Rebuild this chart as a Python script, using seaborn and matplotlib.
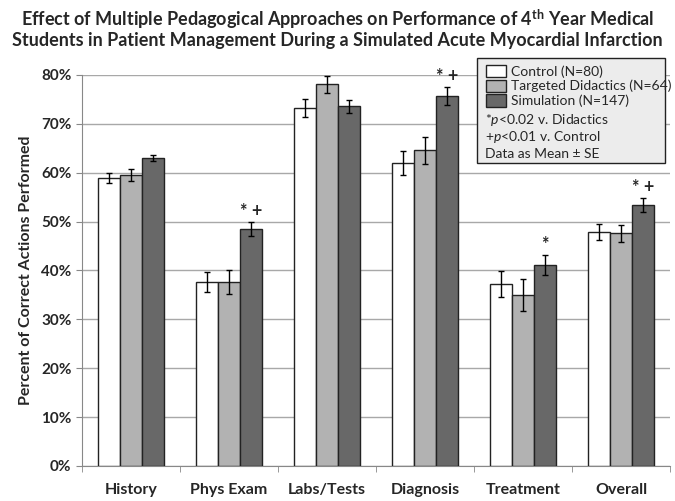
import matplotlib
matplotlib.use("Agg")
import matplotlib.pyplot as plt
from matplotlib.patches import Patch, Rectangle
from matplotlib.ticker import PercentFormatter
import seaborn as sns
import pandas as pd

categories = ["History", "Phys Exam", "Labs/Tests", "Diagnosis", "Treatment", "Overall"]
groups = ["Control (N=80)", "Targeted Didactics (N=64)", "Simulation (N=147)"]
control = [58.9, 37.6, 73.2, 62.0, 37.2, 47.9]
didactics = [59.5, 37.6, 78.1, 64.6, 35.0, 47.6]
simulation = [63.0, 48.5, 73.6, 75.7, 41.1, 53.4]
control_se = [1.0, 2.0, 1.9, 2.5, 2.7, 1.6]
didactics_se = [1.2, 2.4, 1.7, 2.8, 3.2, 1.8]
simulation_se = [0.7, 1.4, 1.3, 1.9, 2.0, 1.4]
sim_marks = ["", "*+", "", "*+", "*", "*+"]
notes = ["*$p$<0.02 v. Didactics", "+$p$<0.01 v. Control", "Data as Mean ± SE"]

sns.set_style("white")
plt.rcParams["font.family"] = ["Lato", "DejaVu Sans"]
plt.rcParams["mathtext.fontset"] = "custom"
plt.rcParams["mathtext.rm"] = "Lato"
plt.rcParams["mathtext.it"] = "Lato:italic"
plt.rcParams["mathtext.bf"] = "Lato:bold"

df = pd.DataFrame({
    "cat": categories * 3,
    "val": control + didactics + simulation,
    "se": control_se + didactics_se + simulation_se,
    "grp": [g for g in groups for _ in categories],
})

colors = ["#ffffff", "#b2b2b2", "#686868"]

fig = plt.figure(figsize=(6.75, 5.01), dpi=100)
ax = fig.add_axes([0.1215, 0.0699, 0.871, 0.7805])

sns.barplot(data=df, x="cat", y="val", hue="grp", palette=colors, edgecolor="#222222",
            linewidth=1.0, width=0.67, errorbar=None, legend=False, ax=ax, zorder=3)

for cont, grp in zip(ax.containers, groups):
    sub = df[df["grp"] == grp]
    xs = [b.get_x() + b.get_width() / 2 for b in cont]
    ax.errorbar(xs, sub["val"], yerr=sub["se"], fmt="none", ecolor="black",
                elinewidth=1.0, capsize=2.5, capthick=1.0, zorder=4)

sim_cont = ax.containers[2]
for b, v, e, m in zip(sim_cont, simulation, simulation_se, sim_marks):
    if m:
        ax.text(b.get_x() + b.get_width() / 2, v + e + 0.4, m.replace("*+", "* +"),
                ha="center", va="bottom", fontsize=13, fontweight="bold")

ax.set_ylim(0, 80)
ax.set_xlim(-0.5, 5.5)
ax.set_yticks(range(0, 81, 10))
ax.yaxis.set_major_formatter(PercentFormatter(decimals=0))
ax.grid(axis="y", color="#a8a8a8", linewidth=1.0, zorder=0)
ax.set_axisbelow(True)
for s in ["top", "right"]:
    ax.spines[s].set_visible(False)
ax.spines["left"].set_color("#888888")
ax.spines["bottom"].set_color("#888888")

ax.set_xticks(range(6))
ax.set_xticklabels(categories, fontsize=11.5, fontweight="bold")
ax.set_xticks([i + 0.5 for i in range(-1, 6)], minor=True)
ax.tick_params(axis="x", which="major", length=0, pad=12)
ax.tick_params(axis="x", which="minor", length=4, color="#888888", direction="out", bottom=True)
ax.tick_params(axis="y", length=4, color="#888888", direction="out", left=True, labelsize=11)
for t in ax.get_yticklabels():
    t.set_fontweight("bold")
ax.set_xlabel("")
ax.set_ylabel("Percent of Correct Actions Performed", fontsize=11.5, fontweight="bold", labelpad=6)

# legend box
ax.add_patch(Rectangle((0.672, 0.775), 0.32, 0.268, transform=ax.transAxes,
                       facecolor="#ececec", edgecolor="#222222", linewidth=1.0,
                       zorder=5, clip_on=False))
handles = [Patch(facecolor=c, edgecolor="#222222", linewidth=1.0) for c in colors]
leg = ax.legend(handles, groups, loc="upper left", bbox_to_anchor=(0.677, 1.04),
                frameon=False, fontsize=10, handlelength=1.5, handleheight=1.0,
                handletextpad=0.35, labelspacing=0.12, borderaxespad=0)
leg.set_zorder(6)
for i, n in enumerate(notes):
    ax.text(0.686, 0.884 - i * 0.0435, n, transform=ax.transAxes, fontsize=10,
            va="center", ha="left", zorder=6)

fig.text(0.5, 0.985, "Effect of Multiple Pedagogical Approaches on Performance of 4$^{\\mathbf{th}}$ Year Medical",
         ha="center", va="top", fontsize=13, fontweight="bold")
fig.text(0.5, 0.937, "Students in Patient Management During a Simulated Acute Myocardial Infarction",
         ha="center", va="top", fontsize=13, fontweight="bold")

fig.savefig("out.png", dpi=100)
